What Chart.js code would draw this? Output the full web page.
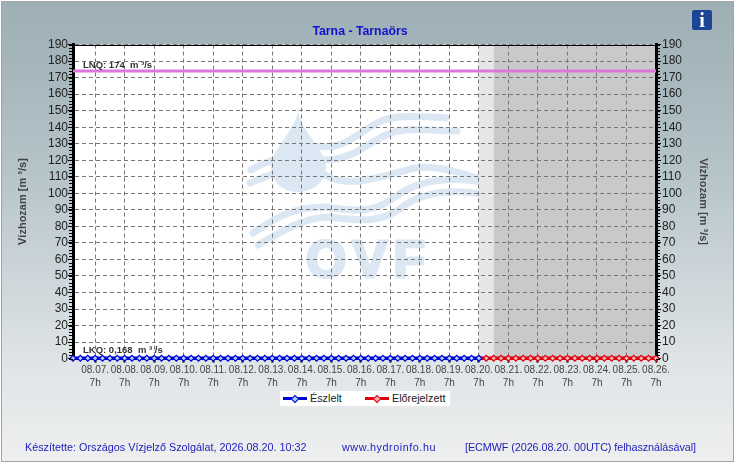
<!DOCTYPE html>
<html lang="hu">
<head>
<meta charset="utf-8">
<title>Tarna - Tarnaörs</title>
<script src="https://cdn.jsdelivr.net/npm/chart.js@4"></script>
<style>
  html, body { margin: 0; padding: 0; }
  body { width: 735px; height: 463px; overflow: hidden; font-family: "Liberation Sans", Arial, sans-serif; }
  #frame {
    position: absolute; left: 1px; top: 1px; width: 731px; height: 459px;
    border: 1px solid #a3a3a3;
    background: linear-gradient(to bottom, #9eafb6 0%, #a6b6bc 15%, #b6c5ca 38%, #cdd6da 60%, #e2e6e8 82%, #eeefef 100%);
  }
  canvas { position: absolute; left: 0; top: 0; }
  .foot { position: absolute; top: 441px; font-size: 10.8px; color: #2222bb; white-space: nowrap; }
  #info {
    position: absolute; left: 692px; top: 10px; width: 20px; height: 20px; border-radius: 2px;
    background: #1c4596; color: #fff; font: bold 20px/20px "Liberation Serif", serif; text-align: center;
  }
  #legend {
    position: absolute; left: 280px; top: 391px; width: 170px; height: 15px; background: #fff;
    font-size: 10.8px; line-height: 15px; color: #222;
  }
  #legend span { position: absolute; top: 0; }
  #legend i { position: absolute; top: 6px; width: 24px; height: 3px; }
  #legend b { position: absolute; top: 5px; width: 4px; height: 4px; border: 1px solid; transform: rotate(45deg); }
</style>
</head>
<body>
<div id="frame"></div>
<canvas id="chart" width="735" height="463"></canvas>
<div id="info">i</div>
<div id="legend">
  <i style="left:3px;background:#0000d8"></i><b style="left:12px;background:#a9d3ee;border-color:#0000d8"></b>
  <span id="lgObs" style="left:30px"></span>
  <i style="left:85px;background:#e00010"></i><b style="left:94px;background:#f5b5b5;border-color:#e00010"></b>
  <span id="lgFc" style="left:112px"></span>
</div>
<div class="foot" style="left:25px">Készítette: Országos Vízjelző Szolgálat, 2026.08.20. 10:32</div>
<div class="foot" style="left:342px;letter-spacing:.55px">www.hydroinfo.hu</div>
<div class="foot" style="left:465px;letter-spacing:-.07px">[ECMWF (2026.08.20. 00UTC) felhasználásával]</div>

<script>
// ── Tarna - Tarnaörs vízhozam ──

const chartTitle = 'Tarna - Tarnaörs';
const axisTitle = 'Vízhozam [m ³/s]';
const lnqLabel = 'LNQ: 174  m ³/s';
const lkqLabel = 'LKQ: 0,168  m ³ /s';
const lnqValue = [174, 174];

// 6 hourly samples, 08.06. 13h - 08.26. 7h
const times = [
  '08.06. 13h','08.06. 19h','08.07. 1h','08.07. 7h','08.07. 13h','08.07. 19h','08.08. 1h','08.08. 7h',
  '08.08. 13h','08.08. 19h','08.09. 1h','08.09. 7h','08.09. 13h','08.09. 19h','08.10. 1h','08.10. 7h',
  '08.10. 13h','08.10. 19h','08.11. 1h','08.11. 7h','08.11. 13h','08.11. 19h','08.12. 1h','08.12. 7h',
  '08.12. 13h','08.12. 19h','08.13. 1h','08.13. 7h','08.13. 13h','08.13. 19h','08.14. 1h','08.14. 7h',
  '08.14. 13h','08.14. 19h','08.15. 1h','08.15. 7h','08.15. 13h','08.15. 19h','08.16. 1h','08.16. 7h',
  '08.16. 13h','08.16. 19h','08.17. 1h','08.17. 7h','08.17. 13h','08.17. 19h','08.18. 1h','08.18. 7h',
  '08.18. 13h','08.18. 19h','08.19. 1h','08.19. 7h','08.19. 13h','08.19. 19h','08.20. 1h','08.20. 7h',
  '08.20. 13h','08.20. 19h','08.21. 1h','08.21. 7h','08.21. 13h','08.21. 19h','08.22. 1h','08.22. 7h',
  '08.22. 13h','08.22. 19h','08.23. 1h','08.23. 7h','08.23. 13h','08.23. 19h','08.24. 1h','08.24. 7h',
  '08.24. 13h','08.24. 19h','08.25. 1h','08.25. 7h','08.25. 13h','08.25. 19h','08.26. 1h','08.26. 7h'
];

const observed = [
  0.2,0.2,0.2,0.2,0.2,0.2,0.2,0.2, 0.2,0.2,0.2,0.2,0.2,0.2,0.2,0.2,
  0.2,0.2,0.2,0.2,0.2,0.2,0.2,0.2, 0.2,0.2,0.2,0.2,0.2,0.2,0.2,0.2,
  0.2,0.2,0.2,0.2,0.2,0.2,0.2,0.2, 0.2,0.2,0.2,0.2,0.2,0.2,0.2,0.2,
  0.2,0.2,0.2,0.2,0.2,0.2,0.2,0.2
];
const forecast = [
  0.2,0.2,0.2,0.2,0.2,0.2,0.2,0.2, 0.2,0.2,0.2,0.2,0.2,0.2,0.2,0.2,
  0.2,0.2,0.2,0.2,0.2,0.2,0.2,0.2, 0.2
];

const firstForecast = '08.20. 7h';
const darkFrom = '08.20. 19h';

document.getElementById('lgObs').textContent = 'Észlelt';
document.getElementById('lgFc').textContent = 'Előrejelzett';

function wave(ctx, w, pts) {
  ctx.lineWidth = w;
  ctx.beginPath();
  ctx.moveTo(pts[0], pts[1]);
  for (let i = 2; i < pts.length; i += 6) {
    ctx.bezierCurveTo(pts[i], pts[i+1], pts[i+2], pts[i+3], pts[i+4], pts[i+5]);
  }
  ctx.stroke();
}

// white plot, forecast shading, OVF watermark: all below the grid
const backdrop = {
  id: 'backdrop',
  beforeDraw(chart) {
    const { ctx, chartArea: a, scales: { x } } = chart;
    const x0 = x.getPixelForValue(times.indexOf(firstForecast));
    const x1 = x.getPixelForValue(times.indexOf(darkFrom));
    ctx.save();
    ctx.fillStyle = '#fff';
    ctx.fillRect(a.left, a.top, a.width, a.height);
    ctx.fillStyle = '#e6e6e9';
    ctx.fillRect(x0, a.top, x1 - x0, a.height);
    ctx.fillStyle = '#c9c9cb';
    ctx.fillRect(x1, a.top, a.right - x1, a.height);

    ctx.save();
    ctx.beginPath();
    ctx.rect(a.left, a.top, x0 - a.left, a.height);
    ctx.clip();
    ctx.fillStyle = ctx.strokeStyle = '#dbe8f4';
    ctx.lineCap = 'round';
    ctx.beginPath();
    ctx.moveTo(298, 112);
    ctx.bezierCurveTo(292, 135, 271, 150, 271, 167);
    ctx.bezierCurveTo(271, 182, 283, 192, 298, 192);
    ctx.bezierCurveTo(313, 192, 326, 182, 326, 167);
    ctx.bezierCurveTo(326, 150, 304, 135, 298, 112);
    ctx.fill();
    wave(ctx, 7, [251,170, 262,163, 268,162, 280,158]);
    wave(ctx, 7, [250,183, 262,178, 268,175, 280,172]);
    wave(ctx, 7, [318,146, 350,152, 365,122, 392,118, 410,115, 430,117, 446,118]);
    wave(ctx, 7, [325,160, 360,160, 375,132, 405,130, 420,128, 440,131, 457,131]);
    wave(ctx, 7, [325,175, 350,190, 385,175, 415,168, 435,165, 460,172, 482,180]);
    wave(ctx, 7, [253,233, 280,215, 295,207, 325,207, 360,212, 375,212, 395,197, 415,182, 445,176, 482,182]);
    wave(ctx, 7, [258,245, 285,230, 300,218, 330,217, 365,222, 385,222, 405,205, 425,192, 450,189, 482,194]);
    ctx.font = 'bold 52px "Liberation Sans", Arial, sans-serif';
    ctx.letterSpacing = '6px';
    ctx.textBaseline = 'alphabetic';
    ctx.lineWidth = 3;
    ctx.lineJoin = 'miter';
    ctx.lineCap = 'butt';
    ctx.fillText('OVF', 306, 276.5);
    ctx.strokeText('OVF', 306, 276.5);
    ctx.restore();
    ctx.restore();
  }
};

// minor ticks, top line and the LNQ / LKQ notes
const extras = {
  id: 'extras',
  afterDraw(chart) {
    const { ctx, chartArea: a, scales: { y } } = chart;
    ctx.save();
    ctx.strokeStyle = '#000';
    ctx.lineWidth = 1;
    ctx.beginPath();
    ctx.moveTo(a.left, Math.round(a.top) + 0.5);
    ctx.lineTo(a.right, Math.round(a.top) + 0.5);
    for (let v = 0; v <= 190; v += 2) {
      const p = Math.round(y.getPixelForValue(v)) + 0.5;
      ctx.moveTo(a.left - 4, p);
      ctx.lineTo(a.left, p);
      ctx.moveTo(a.right, p);
      ctx.lineTo(a.right + 4, p);
    }
    ctx.stroke();
    ctx.fillStyle = '#333';
    ctx.font = 'bold 9.5px "Liberation Sans", Arial, sans-serif';
    ctx.fillText(lnqLabel, 83, 68);
    ctx.fillText(lkqLabel, 83, 353);
    ctx.restore();
  }
};

const lineMarks = (color, fill) => ({
  borderColor: color, borderWidth: 3.5,
  pointStyle: 'rectRot', pointRadius: 3,
  pointBackgroundColor: fill, pointBorderColor: color, pointBorderWidth: 1.2,
  tension: 0, clip: false
});

new Chart(document.getElementById('chart').getContext('2d'), {
  type: 'line',
  data: {
    labels: times,
    datasets: [
      { label: 'LNQ', data: [{ x: times[0], y: lnqValue[0] }, { x: times[times.length - 1], y: lnqValue[1] }],
        borderColor: '#dd77dd', borderWidth: 3, pointRadius: 0, order: 3 },
      { label: 'Előrejelzett', data: times.slice(times.indexOf(firstForecast)).map((t, i) => ({ x: t, y: forecast[i] })),
        ...lineMarks('#e00010', '#f5b5b5'), order: 2 },
      { label: 'Észlelt', data: observed, ...lineMarks('#0000d8', '#a9d3ee'), order: 1 }
    ]
  },
  options: {
    responsive: false,
    animation: false,
    devicePixelRatio: 1,
    layout: { padding: { top: 24, right: 15 } },
    plugins: {
      legend: { display: false },
      tooltip: { enabled: false },
      title: {
        display: true, text: chartTitle, color: '#1212cc',
        font: { family: '"Liberation Sans", Arial, sans-serif', size: 12.3, weight: 'bold' },
        padding: { top: 0, bottom: 5.8 }
      }
    },
    scales: {
      x: {
        afterBuildTicks(s) { s.ticks = s.ticks.filter(t => times[t.value].endsWith(' 7h')); },
        afterFit(s) { s.height = 104.4; },
        grid: { color: '#777', tickColor: '#000', tickLength: 4, tickWidth: 2 },
        border: { color: '#000', width: 1, dash: [4, 3] },
        ticks: {
          autoSkip: false, maxRotation: 0, padding: 1, color: '#444',
          font: { family: '"Liberation Sans", Arial, sans-serif', size: 10, lineHeight: 1.3 },
          callback(v) { return times[v].split(' '); }
        }
      },
      y: {
        min: 0, max: 190,
        afterFit(s) { s.width = 73; },
        grid: { color: '#777', tickColor: '#000', tickLength: 5 },
        border: { color: '#000', width: 3, dash: [4, 3] },
        ticks: {
          autoSkip: false, stepSize: 10, padding: 0, color: '#222',
          font: { family: '"Liberation Sans", Arial, sans-serif', size: 12 }
        },
        title: {
          display: true, text: axisTitle, color: '#444', padding: { top: 16 },
          font: { family: '"Liberation Sans", Arial, sans-serif', size: 11, weight: 'bold' }
        }
      },
      y2: {
        position: 'right', min: 0, max: 190,
        afterFit(s) { s.width = 64; },
        grid: { drawOnChartArea: false, tickColor: '#000', tickLength: 5 },
        border: { color: '#000', width: 3 },
        ticks: {
          autoSkip: false, stepSize: 10, padding: 1, color: '#222',
          font: { family: '"Liberation Sans", Arial, sans-serif', size: 12 }
        },
        title: {
          display: true, text: axisTitle, color: '#444', padding: { top: 10 },
          font: { family: '"Liberation Sans", Arial, sans-serif', size: 11, weight: 'bold' }
        }
      }
    }
  },
  plugins: [backdrop, extras]
});
</script>
</body>
</html>
